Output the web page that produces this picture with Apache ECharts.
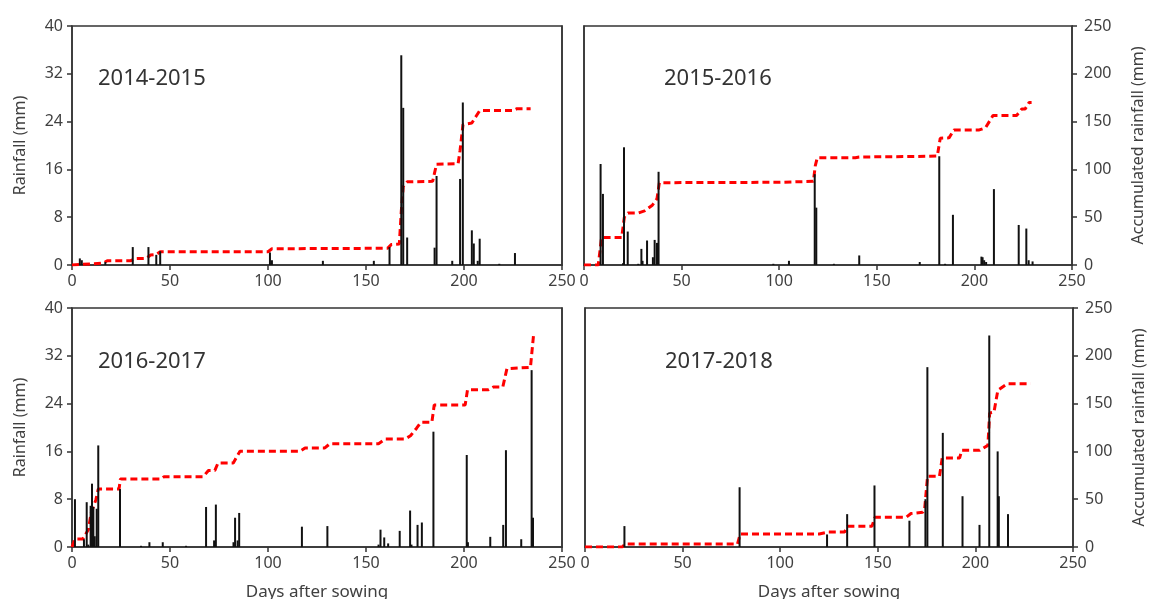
<!DOCTYPE html>
<html style="height: 100%">
<head>
	<meta charset="utf-8">
</head>
<body style="height: 100%; margin: 0; background-color: #fff;">
<div id="container" style="width: 1149px; height: 599px"></div>
<script type="text/javascript" src="https://cdn.jsdelivr.net/npm/echarts@6/dist/echarts.min.js"></script>
<script type="text/javascript">
	// daily rainfall [day after sowing, mm]
	var rain1415 = [[4,1.1],[5,0.8],[17,0.5],[31,3.0],[39,3.0],[43,1.7],[45,2.3],[101,2.1],[102,0.8],[128,0.7],[154,0.7],[162,3.0],
		[168,35.1],[169,26.3],[171,4.6],[185,2.9],[186,14.9],[194,0.7],[198,14.4],[199.4,27.2],[204,5.8],[205,3.6],[207,0.7],[208,4.4],[218,0.2],[226,2.0]];
	var rain1516 = [[8.5,16.9],[9.7,11.9],[20,0.3],[20.5,19.7],[22.4,5.6],[27.8,0.2],[29.4,2.7],[30,0.7],[32.3,4.1],[35.3,1.3],[36.2,4.2],[37.4,3.7],[38.2,15.6],
		[97,0.2],[105,0.7],[118.2,15.2],[119,9.6],[128,0.2],[141,1.6],[172,0.5],[182,18.2],[185,0.2],[189,8.4],[203.6,1.4],[204.2,1.3],[205,0.8],[206,0.5],
		[210,12.7],[222.7,6.7],[226.6,6.1],[227.8,0.8],[229.8,0.6]];
	var rain1617 = [[1.5,8.0],[6.1,1.3],[7.5,7.5],[8.3,0.4],[9.5,6.9],[10.2,10.6],[10.9,6.7],[11.6,1.8],[12.6,6.4],[13.4,17.0],[24.5,9.7],[35.2,0.2],
		[39.5,0.8],[46.3,0.8],[58.2,0.2],[68.4,6.7],[72.5,1.1],[73.4,7.1],[82.4,0.8],[83.2,4.9],[84.5,1.1],[85.3,5.7],[117.3,3.4],[130.3,3.5],
		[156.4,0.4],[157.4,2.9],[159.3,1.6],[161.3,0.6],[167.2,2.7],[172.5,6.1],[173.2,0.4],[176.3,3.7],[178.5,4.1],[184.4,19.3],[201.4,15.4],[202,0.8],
		[213.4,1.7],[220,3.7],[221.4,16.2],[229.2,1.3],[234.5,29.6],[235.2,4.9]];
	var rain1718 = [[20.2,3.5],[79.2,10.0],[124,2.1],[134.3,5.5],[148.3,10.3],[166.2,4.4],[174.4,8.0],[175.4,30.1],[183.3,19.1],[193.4,8.5],
		[202.1,3.7],[207.1,35.4],[211.4,16.0],[212,8.5],[216.7,5.5]];

	// accumulated rainfall [day after sowing, mm]
	var cum1415 = [[0,0],[4,0.5],[5,1.5],[16,2],[18,4.5],[30,4.5],[32,6.6],[38,7],[40,10.4],[43,11],[45,13.9],[100,13.9],[102,17],[161,17.5],[163,21.5],
		[167,22],[168,56],[169,82],[171,87],[184,87.5],[186,105.5],[197,106],[198,120],[199.5,147],[204,148.5],[206,155],[208,161.5],[225,161.5],[227,163.5],[234,163.5]];
	var cum1516 = [[0,0],[7.3,0],[9,28.8],[19.3,28.8],[20.7,50.3],[22.5,54.5],[27.9,54.5],[31,56.6],[35,62.5],[37.4,69.4],[38.6,86.1],[100,86.5],
		[117.5,87.5],[118.5,104],[119.5,112.2],[139,112.2],[141,113],[171,113.5],[181,114],[182.5,132.6],[187,133],[189.5,141.3],[202.5,141.3],
		[205.7,143.5],[209.5,156.3],[221.6,156.3],[224.3,163.2],[226,163.2],[228,170],[229.3,170]];
	var cum1617 = [[0,0],[1.5,8.4],[5.5,8.4],[8.3,18.1],[9.8,35.6],[12.2,49.5],[13.4,60.7],[24,60.7],[24.7,71.1],[45.5,71.1],[47,73.6],[67,73.6],
		[69.6,80.1],[72.9,80.1],[74.5,87.9],[82.3,87.9],[85.7,100.1],[116.4,100.1],[118.9,103.6],[129,103.6],[131.6,108.1],[156.4,108.1],[159.8,113],
		[170,113],[172.7,116.4],[175.9,124.5],[178,130.4],[183.6,130.4],[184.8,148.5],[200.6,148.5],[201.8,164.6],[212.5,164.6],[215,167.4],
		[219.8,167.4],[221.9,186.5],[233.9,188],[235.5,222]];
	var cum1718 = [[0,0],[19.1,0],[20.5,3.1],[78.1,3.1],[79.5,13.6],[120,13.6],[124.5,15.7],[133,15.7],[134.5,21.6],[147,21.6],[148.5,31],
		[164.5,31],[167,35],[173,36.3],[174,40],[175.5,74],[181.6,74],[183,93.1],[191.9,93.1],[193,101.1],[202.1,101.1],[206.4,106.3],
		[207.3,140.2],[209.5,141],[211.5,163.9],[216.3,170.8],[228.3,170.8]];

	var seasons = ['2014-2015', '2015-2016', '2016-2017', '2017-2018'];
	var rains = [rain1415, rain1516, rain1617, rain1718];
	var cums = [cum1415, cum1516, cum1617, cum1718];

	var grids = [
		{left: 72, top: 26, width: 490, height: 239},
		{left: 584, top: 26, width: 488, height: 239},
		{left: 72, top: 308, width: 490, height: 239},
		{left: 585, top: 308, width: 488, height: 239}
	];
	var titlePos = [[93, 63], [659, 63], [93, 346], [660, 346]];

	var font = 'Noto Sans';
	var axisColor = '#333';
	var textColor = '#404040';

	var dom = document.getElementById('container');
	var myChart = echarts.init(dom);

	var xAxis = [], yAxis = [], series = [], title = [];
	grids.forEach(function(g, i) {
		var isLeft = (i % 2 === 0);
		var isBottom = (i >= 2);
		g.show = true;
		g.borderColor = axisColor;
		g.borderWidth = 1.5;
		g.containLabel = false;
		g.outerBoundsMode = 'none';

		xAxis.push({
			gridIndex: i,
			type: 'value',
			min: 0,
			max: 250,
			interval: 50,
			name: isBottom ? 'Days after sowing' : '',
			nameLocation: 'middle',
			nameGap: 37,
			nameTextStyle: {fontFamily: font, fontSize: 17, color: textColor},
			axisLine: {lineStyle: {color: axisColor, width: 1.5}},
			axisTick: {length: 5, lineStyle: {color: axisColor, width: 1.5}},
			axisLabel: {fontFamily: font, fontSize: 16, color: textColor, margin: 8},
			splitLine: {show: false}
		});

		yAxis.push({
			gridIndex: i,
			type: 'value',
			position: 'left',
			min: 0,
			max: 40,
			interval: 8,
			name: isLeft ? 'Rainfall (mm)' : '',
			nameLocation: 'middle',
			nameGap: 44,
			nameTextStyle: {fontFamily: font, fontSize: 16, color: textColor},
			axisLine: {show: true, lineStyle: {color: axisColor, width: 1.5}},
			axisTick: {show: isLeft, length: 5, lineStyle: {color: axisColor, width: 1.5}},
			axisLabel: {show: isLeft, fontFamily: font, fontSize: 16, color: textColor, margin: 9},
			splitLine: {show: false}
		});

		yAxis.push({
			gridIndex: i,
			type: 'value',
			position: 'right',
			min: 0,
			max: 250,
			interval: 50,
			name: isLeft ? '' : 'Accumulated rainfall (mm)',
			nameLocation: 'middle',
			nameGap: 58,
			nameTextStyle: {fontFamily: font, fontSize: 16, color: textColor},
			axisLine: {show: true, lineStyle: {color: axisColor, width: 1.5}},
			axisTick: {show: !isLeft, length: 5, lineStyle: {color: axisColor, width: 1.5}},
			axisLabel: {show: !isLeft, fontFamily: font, fontSize: 16, color: textColor, margin: 12},
			splitLine: {show: false}
		});

		series.push({
			type: 'line',
			xAxisIndex: i,
			yAxisIndex: i * 2 + 1,
			data: cums[i],
			showSymbol: false,
			z: 2,
			lineStyle: {color: '#ff0000', width: 3, type: [7, 4]}
		});
		series.push({
			type: 'bar',
			xAxisIndex: i,
			yAxisIndex: i * 2,
			data: rains[i],
			barWidth: 2,
			z: 3,
			itemStyle: {color: '#111'}
		});

		title.push({
			text: seasons[i],
			left: titlePos[i][0],
			top: titlePos[i][1],
			textStyle: {fontFamily: font, fontSize: 22, fontWeight: 'normal', color: '#333'}
		});
	});

	var option = {
		animation: false,
		title: title,
		grid: grids,
		xAxis: xAxis,
		yAxis: yAxis,
		series: series
	};
	myChart.setOption(option);
</script>
</body>
</html>
